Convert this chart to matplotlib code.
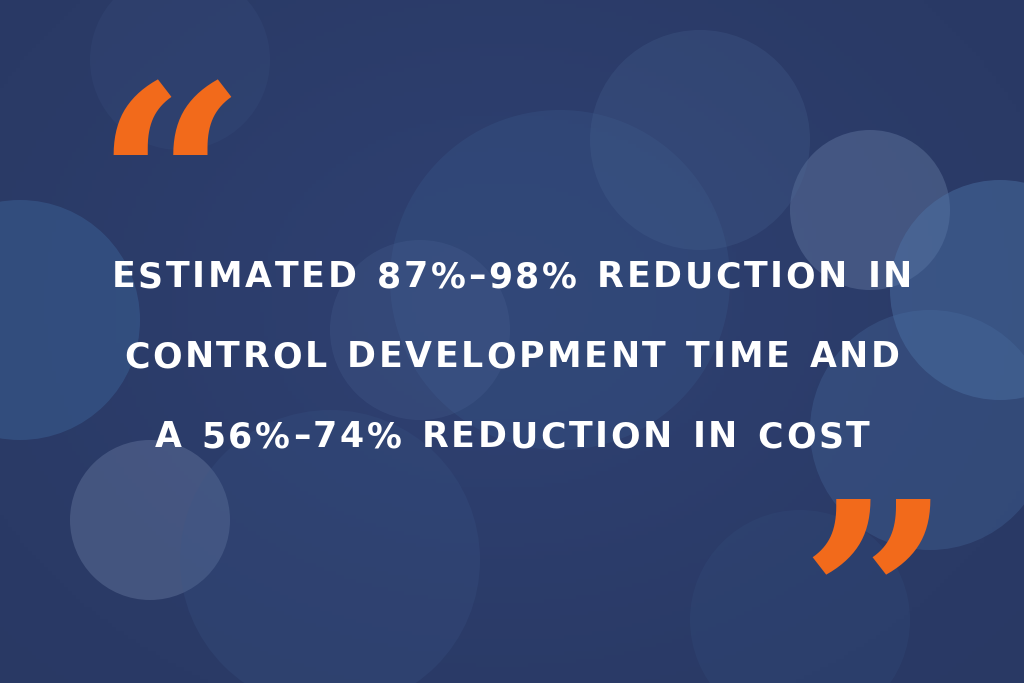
import matplotlib
matplotlib.use("Agg")
import matplotlib.pyplot as plt
from matplotlib.patches import Circle
import numpy as np

lines = ["ESTIMATED 87%–98% REDUCTION IN",
         "CONTROL DEVELOPMENT TIME AND",
         "A 56%–74% REDUCTION IN COST"]
line_y = [277, 357, 437]
open_quote = "\u201C"
close_quote = "\u201D"

W, H = 1024, 683
fig = plt.figure(figsize=(W/100, H/100), dpi=100)
ax = fig.add_axes([0, 0, 1, 1])
ax.set_xlim(0, W); ax.set_ylim(H, 0); ax.axis("off")
fig.patch.set_facecolor("#2c3f6c")

yy, xx = np.mgrid[0:H:4, 0:W:4]
g = 0.5 + 0.5*np.exp(-((xx-500)**2/(450**2) + (yy-300)**2/(350**2)))
base = np.array([0x2a, 0x3a, 0x66]) / 255.0
img = np.clip(base[None, None, :] * (0.85 + 0.25*g[..., None]), 0, 1)
ax.imshow(img, extent=[0, W, H, 0], zorder=0, aspect="auto")

bokeh = [(870, 210, 80, "#6a7fa8", 0.4), (1000, 290, 110, "#4d74a8", 0.45),
         (150, 520, 80, "#8a9cc0", 0.28), (20, 320, 120, "#3f6aa0", 0.4),
         (560, 280, 170, "#3a5a8c", 0.3), (930, 430, 120, "#4a70a4", 0.3),
         (330, 560, 150, "#3b5688", 0.25), (700, 140, 110, "#4a6694", 0.25),
         (420, 330, 90, "#556fa0", 0.2), (180, 60, 90, "#3a5080", 0.25),
         (800, 620, 110, "#34507f", 0.25)]
for x, y, r, c, a in bokeh:
    ax.add_patch(Circle((x, y), r, color=c, alpha=a, lw=0, zorder=1))

fig.canvas.draw()
r = fig.canvas.get_renderer()
fs = 25
spacing = 2.7
for txt, y in zip(lines, line_y):
    widths = []
    for ch in txt:
        t = ax.text(0, 0, ch if ch != " " else "n", fontsize=fs, fontweight="bold", family="DejaVu Sans")
        w = t.get_window_extent(r).width
        t.remove()
        widths.append(w * (0.6 if ch == " " else 1.0))
    total = sum(widths) + spacing*(len(txt)-1)
    x = W/2 - total/2
    for ch, w in zip(txt, widths):
        ax.text(x, y, ch, fontsize=fs, fontweight="bold", family="DejaVu Sans",
                color="white", va="center", ha="left", zorder=3)
        x += w + spacing

ax.text(170, 75, open_quote, fontsize=190, color="#f26a1b", family="DejaVu Serif",
        fontweight="bold", ha="center", va="top", zorder=3)
ax.text(875, 490, close_quote, fontsize=190, color="#f26a1b", family="DejaVu Serif",
        fontweight="bold", ha="center", va="top", zorder=3)

fig.savefig("out.png", dpi=100)
